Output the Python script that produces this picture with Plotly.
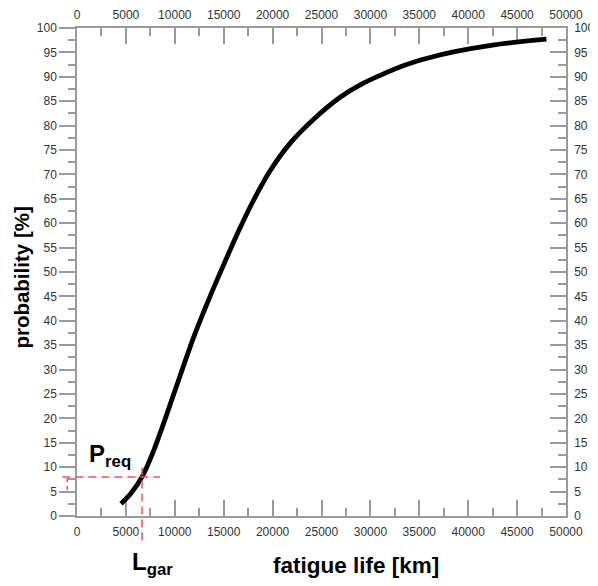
import plotly.graph_objects as go

# ---- data ----
life_km = [4500, 5500, 6650, 7800, 9000, 10500, 12000, 13500, 15000, 16500, 18000,
           19700, 21800, 24200, 26900, 29000, 31000, 33700, 36000, 38500, 42500, 48000]
prob_pct = [2.5, 4.6, 8.0, 13.2, 19.8, 28.5, 37.0, 44.5, 51.5, 58.3, 64.5,
            70.6, 76.4, 81.3, 85.8, 88.4, 90.3, 92.5, 93.9, 95.1, 96.5, 97.7]

P_REQ = 8.0        # required probability [%]
L_GAR = 6650       # guaranteed life [km]
H_EXTENT = [-1500, 8500]   # x extent of the horizontal dashed line
V_EXTENT = [-5, 10]        # y extent of the vertical dashed line
MARK_X = -1000
MARK_Y = [7.8, 4.6]

X_RANGE = [0, 50000]
Y_RANGE = [0, 100]
x_ticks = list(range(0, 50001, 5000))
y_ticks = list(range(0, 101, 5))


def xdom(v):
    return (v - X_RANGE[0]) / (X_RANGE[1] - X_RANGE[0])


def ydom(v):
    return (v - Y_RANGE[0]) / (Y_RANGE[1] - Y_RANGE[0])


FONT = "Arial, Liberation Sans, sans-serif"
AXC = "#9a9a9a"
LBLC = "#333333"
RED = "#ff4d4d"

fig = go.Figure()
fig.add_trace(go.Scatter(x=life_km, y=prob_pct, mode="lines",
                         line=dict(color="black", width=4.8, shape="spline", smoothing=1.0),
                         showlegend=False, hoverinfo="skip"))
fig.add_trace(go.Scatter(x=life_km, y=prob_pct, mode="lines", xaxis="x2", yaxis="y2",
                         line=dict(color="rgba(0,0,0,0)", width=0),
                         showlegend=False, hoverinfo="skip"))

common_x = dict(range=X_RANGE, tickvals=x_ticks, ticktext=[str(v) for v in x_ticks],
                showgrid=False, zeroline=False, automargin=False, layer="below traces",
                showline=True, linecolor=AXC, linewidth=1.5,
                tickcolor=AXC, tickwidth=1.5, ticklen=16, ticks="inside",
                tickfont=dict(family=FONT, size=12, color=LBLC),
                minor=dict(dtick=2500, ticks="inside", ticklen=8, tickcolor=AXC, tickwidth=1.5))
common_y = dict(range=Y_RANGE, tickvals=y_ticks, ticktext=[str(v) for v in y_ticks],
                showgrid=False, zeroline=False, automargin=False, layer="below traces",
                showline=True, linecolor=AXC, linewidth=1.5,
                tickcolor=AXC, tickwidth=1.5, ticklen=16,
                tickfont=dict(family=FONT, size=12, color=LBLC))

fig.update_layout(
    width=590, height=578, autosize=False,
    margin=dict(l=69, r=32, t=20, b=70),
    paper_bgcolor="white", plot_bgcolor="white",
    xaxis=dict(**common_x, side="bottom", ticklabelstandoff=4),
    xaxis2=dict(**common_x, side="top", overlaying="x", anchor="y2", ticklabelstandoff=2),
    yaxis=dict(**common_y, side="left", ticks="outside",
               minor=dict(dtick=2.5, ticks="outside", ticklen=7, tickcolor=AXC, tickwidth=1.5)),
    yaxis2=dict(**common_y, side="right", overlaying="y", anchor="x2", ticks="inside",
                ticklabelstandoff=4,
                minor=dict(dtick=2.5, ticks="inside", ticklen=8, tickcolor=AXC, tickwidth=1.5)),
)

dash = dict(color=RED, width=1.5, dash="8px,5px")
fig.add_shape(type="line", xref="x domain", yref="y",
              x0=xdom(H_EXTENT[0]), x1=xdom(H_EXTENT[1]), y0=P_REQ, y1=P_REQ,
              line=dash, layer="above")
fig.add_shape(type="line", xref="x", yref="y domain",
              x0=L_GAR, x1=L_GAR, y0=ydom(V_EXTENT[0]), y1=ydom(V_EXTENT[1]),
              line=dash, layer="above")
fig.add_shape(type="line", xref="x domain", yref="y",
              x0=xdom(MARK_X), x1=xdom(MARK_X), y0=MARK_Y[0], y1=MARK_Y[1],
              line=dict(color=RED, width=1.5, dash="4px,4px"), layer="above")

fig.add_annotation(text="<b>P<sub>req</sub></b>", xref="x", yref="y", x=1000, y=12.5,
                   xanchor="left", yanchor="middle", showarrow=False,
                   font=dict(family=FONT, size=24, color="black"))
fig.add_annotation(text="<b>L<sub>gar</sub></b>", xref="x", yref="paper", x=5400, y=-0.097,
                   xanchor="left", yanchor="middle", showarrow=False,
                   font=dict(family=FONT, size=24, color="black"))
fig.add_annotation(text="<b>fatigue life [km]</b>", xref="paper", yref="paper", x=0.57, y=-0.101,
                   xanchor="center", yanchor="middle", showarrow=False,
                   font=dict(family=FONT, size=22.5, color="black"))
fig.add_annotation(text="<b>probability [%]</b>", xref="paper", yref="paper", x=-0.113, y=0.488,
                   xanchor="center", yanchor="middle", showarrow=False, textangle=-90,
                   font=dict(family=FONT, size=20.5, color="black"))

fig.write_html("out.html")
